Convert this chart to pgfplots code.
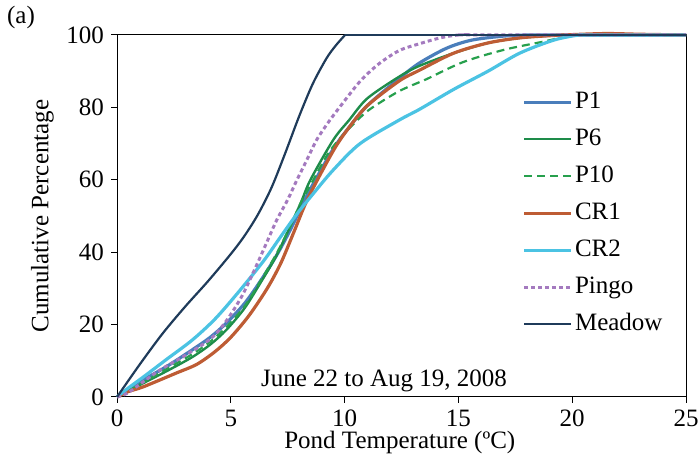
\documentclass[border=0pt]{standalone}
\usepackage{fontspec}
\setmainfont{Liberation Serif}
\usepackage{pgfplots}
\pgfplotsset{compat=1.18}
\definecolor{cP1}{RGB}{74,126,187}
\definecolor{cP6}{RGB}{30,140,74}
\definecolor{cP10}{RGB}{39,160,77}
\definecolor{cCR1}{RGB}{190,92,52}
\definecolor{cCR2}{RGB}{75,195,227}
\definecolor{cPingo}{RGB}{164,122,191}
\definecolor{cMeadow}{RGB}{31,59,90}
\begin{document}
\begin{tikzpicture}[font=\fontsize{12.5}{15}\selectfont]
\useasboundingbox (0,0) rectangle (350pt,232pt);
\begin{axis}[
  at={(58.5pt,33.5pt)}, anchor=south west,
  scale only axis, width=284.5pt, height=181pt,
  xmin=0, xmax=25, ymin=0, ymax=100,
  xtick={0,5,10,15,20,25}, ytick={0,20,40,60,80,100},
  tick pos=left, tick align=outside, major tick length=3pt,
  tick style={black, line width=0.5pt},
  axis line style={black, line width=0.5pt},
  /pgf/number format/assume math mode=true,
  clip=false,
  xlabel={Pond Temperature (ºC)},
  ylabel={Cumulative Percentage},
  xlabel style={at={(axis description cs:0.497,-0.127)}, anchor=center},
  ylabel style={at={(axis description cs:-0.131,0.5)}, anchor=center},
  legend style={at={(axis description cs:0.702,0.865)}, anchor=north west, draw=none, fill=none,
    row sep=4.5pt, nodes={inner sep=1pt, text height=9pt, text depth=3pt}},
  legend cell align=left,
  legend image code/.code={\draw[#1] (0pt,0pt) -- (23.5pt,0pt);},
]
\addplot[cP1, line width=1.6pt, smooth] coordinates {(0,0) (0.5,2) (1.15,4.7) (2.2,8.5) (3.3,13) (4.1,16.5) (4.8,20.4) (5.6,25.8) (6.3,32) (7,39) (7.6,46) (8.1,52.5) (8.5,57.5) (9.5,68.5) (10.2,74.5) (11,80.5) (12.4,88) (13.3,92.3) (14.5,96.4) (15.6,98.6) (17,99.7) (18,100) (18.5,100) (25,100)};
\addlegendentry{P1}
\addplot[cP6, line width=1.2pt, smooth] coordinates {(0,0) (0.5,1.6) (1.15,3.8) (2.2,7.2) (3.3,11) (4.1,14.5) (4.8,18.5) (5.6,24.5) (6.3,31.5) (7,39) (7.6,47) (8.1,54) (8.5,60) (9.5,71) (10.2,76.5) (11,82.5) (12.4,88.5) (13.3,91.5) (14.8,95) (16.3,97.8) (17.7,99.2) (19,99.8) (20,100) (20.5,100) (25,100)};
\addlegendentry{P6}
\addplot[cP10, line width=1.1pt, smooth, dash pattern=on 4pt off 2.5pt] coordinates {(0,0) (0.5,1.7) (1.15,4) (2.2,7.8) (3.3,11.8) (4.1,15.3) (4.8,19.3) (5.6,25) (6.3,32) (7,39.5) (7.6,47) (8.1,54) (8.5,58.5) (9.2,66.5) (9.8,71.5) (10.8,77.9) (11.4,80.7) (12.4,84.5) (13.3,87) (13.6,87.8) (15.2,92.5) (17,95.9) (18.6,98) (19.5,99.2) (20.3,100) (20.8,100) (25,100)};
\addlegendentry{P10}
\addplot[cCR1, line width=1.6pt, smooth] coordinates {(0,0) (0.5,1.5) (1.15,2.8) (2.6,6.6) (3.5,9) (4.3,12.5) (5,16.5) (5.8,22.5) (6.6,30) (7.2,37) (7.8,46) (8.4,55) (9.5,68) (10.2,74.5) (11,80.5) (12.4,87.3) (13.3,90.3) (14.8,95) (16.3,97.8) (17.7,99.2) (19,99.8) (20,100.1) (21.5,100.4) (23,100.2) (25,100)};
\addlegendentry{CR1}
\addplot[cCR2, line width=1.6pt, smooth] coordinates {(0,0) (0.5,2.5) (1.15,5.5) (2.2,10.5) (3.3,15.7) (4.3,21.5) (5.3,28.7) (6.43,37.5) (7.16,44) (7.9,50.5) (8.6,56) (9.5,62.7) (10.68,70) (12.4,76.5) (13.3,79.5) (14.8,85) (16.3,90) (17.7,95) (19.2,98.6) (20.3,100) (20.8,100) (25,100)};
\addlegendentry{CR2}
\addplot[cPingo, line width=1.5pt, smooth, dash pattern=on 2pt off 1.5pt] coordinates {(0,0) (0.44,1) (1.0,3.5) (1.9,7.5) (3,11.5) (4.1,16) (4.8,21) (5.5,28) (6.14,36.5) (6.6,43) (7.02,48.9) (7.5,54.5) (7.9,59.9) (8.35,65.6) (8.77,71) (9.3,76) (9.8,80.2) (10.68,87.2) (11.5,92) (12.4,95.7) (13.3,97.6) (14.2,99.2) (15,100) (15.8,100) (25,100)};
\addlegendentry{Pingo}
\addplot[cMeadow, line width=1.1pt, smooth] coordinates {(0,0) (1,9) (2,17.5) (3,25) (4,32) (5,39.5) (5.6,44.5) (6.2,50.5) (6.8,58) (7.4,67.5) (8.0,77.5) (8.6,86.5) (9.2,93.5) (9.6,97) (10.02,100)};
\addlegendentry{Meadow}
\addplot[cMeadow, line width=1.1pt, forget plot] coordinates {(10.02,100) (25,100)};
\node at (axis cs:11.73,4.4) {June 22 to Aug 19, 2008};
\end{axis}
\node at (10.5pt,223pt) {(a)};
\end{tikzpicture}
\end{document}
